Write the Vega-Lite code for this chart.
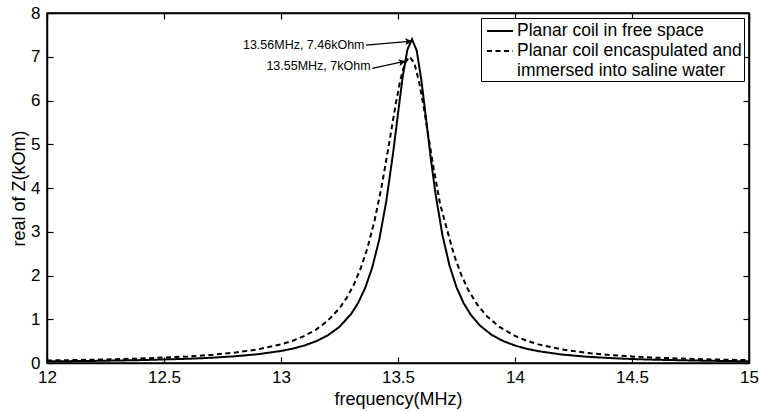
{
  "$schema": "https://vega.github.io/schema/vega-lite/v6.json",
  "width": 702,
  "height": 350,
  "autosize": "none",
  "padding": {"left": 47, "top": 13, "right": 10, "bottom": 48},
  "background": "white",
  "config": {
    "font": "Liberation Sans",
    "view": {"stroke": "black", "strokeWidth": 1.5},
    "axis": {
      "grid": false,
      "domainColor": "black",
      "domainWidth": 1.5,
      "tickColor": "black",
      "tickWidth": 1.2,
      "tickSize": -6,
      "labelFlush": false,
      "labelColor": "black",
      "titleColor": "black",
      "labelFont": "Liberation Sans",
      "titleFont": "Liberation Sans",
      "labelFontSize": 17,
      "titleFontSize": 18,
      "titleFontWeight": "normal"
    },
    "legend": {
      "orient": "none",
      "legendX": 434,
      "legendY": 5,
      "strokeColor": "black",
      "fillColor": "white",
      "padding": 2,
      "symbolType": "M-0.7,0L1.9,0",
      "symbolSize": 400,
      "symbolStrokeWidth": 2,
      "symbolStrokeColor": "black",
      "symbolFillColor": "transparent",
      "labelFont": "Liberation Sans",
      "labelFontSize": 17.5,
      "labelColor": "black",
      "labelLimit": 400,
      "labelOffset": 12,
      "labelLineHeight": 21,
      "rowPadding": 0
    }
  },
  "datasets": {
    "curves": [
      {"s": "free", "f": 12.0, "z": 0.037},
      {"s": "free", "f": 12.2, "z": 0.048},
      {"s": "free", "f": 12.4, "z": 0.066},
      {"s": "free", "f": 12.6, "z": 0.096},
      {"s": "free", "f": 12.7, "z": 0.119},
      {"s": "free", "f": 12.8, "z": 0.152},
      {"s": "free", "f": 12.9, "z": 0.2},
      {"s": "free", "f": 13.0, "z": 0.275},
      {"s": "free", "f": 13.05, "z": 0.329},
      {"s": "free", "f": 13.1, "z": 0.4},
      {"s": "free", "f": 13.15, "z": 0.497},
      {"s": "free", "f": 13.2, "z": 0.632},
      {"s": "free", "f": 13.25, "z": 0.828},
      {"s": "free", "f": 13.3, "z": 1.123},
      {"s": "free", "f": 13.33, "z": 1.377},
      {"s": "free", "f": 13.36, "z": 1.719},
      {"s": "free", "f": 13.39, "z": 2.184},
      {"s": "free", "f": 13.42, "z": 2.824},
      {"s": "free", "f": 13.45, "z": 3.7},
      {"s": "free", "f": 13.48, "z": 4.84},
      {"s": "free", "f": 13.5, "z": 5.7},
      {"s": "free", "f": 13.52, "z": 6.54},
      {"s": "free", "f": 13.54, "z": 7.16},
      {"s": "free", "f": 13.56, "z": 7.4},
      {"s": "free", "f": 13.58, "z": 7.14},
      {"s": "free", "f": 13.6, "z": 6.46},
      {"s": "free", "f": 13.62, "z": 5.58},
      {"s": "free", "f": 13.64, "z": 4.68},
      {"s": "free", "f": 13.66, "z": 3.88},
      {"s": "free", "f": 13.69, "z": 2.92},
      {"s": "free", "f": 13.72, "z": 2.23},
      {"s": "free", "f": 13.75, "z": 1.73},
      {"s": "free", "f": 13.78, "z": 1.373},
      {"s": "free", "f": 13.81, "z": 1.109},
      {"s": "free", "f": 13.85, "z": 0.857},
      {"s": "free", "f": 13.9, "z": 0.644},
      {"s": "free", "f": 13.95, "z": 0.5},
      {"s": "free", "f": 14.0, "z": 0.399},
      {"s": "free", "f": 14.05, "z": 0.325},
      {"s": "free", "f": 14.1, "z": 0.27},
      {"s": "free", "f": 14.2, "z": 0.194},
      {"s": "free", "f": 14.3, "z": 0.146},
      {"s": "free", "f": 14.4, "z": 0.114},
      {"s": "free", "f": 14.5, "z": 0.091},
      {"s": "free", "f": 14.6, "z": 0.075},
      {"s": "free", "f": 14.8, "z": 0.053},
      {"s": "free", "f": 15.0, "z": 0.039},
      {"s": "saline", "f": 12.0, "z": 0.057},
      {"s": "saline", "f": 12.2, "z": 0.075},
      {"s": "saline", "f": 12.4, "z": 0.102},
      {"s": "saline", "f": 12.6, "z": 0.149},
      {"s": "saline", "f": 12.7, "z": 0.185},
      {"s": "saline", "f": 12.8, "z": 0.236},
      {"s": "saline", "f": 12.9, "z": 0.31},
      {"s": "saline", "f": 13.0, "z": 0.426},
      {"s": "saline", "f": 13.05, "z": 0.509},
      {"s": "saline", "f": 13.1, "z": 0.618},
      {"s": "saline", "f": 13.15, "z": 0.764},
      {"s": "saline", "f": 13.2, "z": 0.966},
      {"s": "saline", "f": 13.25, "z": 1.252},
      {"s": "saline", "f": 13.28, "z": 1.483},
      {"s": "saline", "f": 13.31, "z": 1.777},
      {"s": "saline", "f": 13.34, "z": 2.154},
      {"s": "saline", "f": 13.37, "z": 2.638},
      {"s": "saline", "f": 13.4, "z": 3.259},
      {"s": "saline", "f": 13.43, "z": 4.035},
      {"s": "saline", "f": 13.46, "z": 4.954},
      {"s": "saline", "f": 13.49, "z": 5.91},
      {"s": "saline", "f": 13.51, "z": 6.47},
      {"s": "saline", "f": 13.53, "z": 6.86},
      {"s": "saline", "f": 13.55, "z": 7.0},
      {"s": "saline", "f": 13.57, "z": 6.85},
      {"s": "saline", "f": 13.59, "z": 6.43},
      {"s": "saline", "f": 13.61, "z": 5.85},
      {"s": "saline", "f": 13.63, "z": 5.18},
      {"s": "saline", "f": 13.65, "z": 4.52},
      {"s": "saline", "f": 13.68, "z": 3.63},
      {"s": "saline", "f": 13.71, "z": 3.04},
      {"s": "saline", "f": 13.74, "z": 2.46},
      {"s": "saline", "f": 13.77, "z": 2.02},
      {"s": "saline", "f": 13.8, "z": 1.671},
      {"s": "saline", "f": 13.84, "z": 1.323},
      {"s": "saline", "f": 13.88, "z": 1.068},
      {"s": "saline", "f": 13.93, "z": 0.837},
      {"s": "saline", "f": 14.0, "z": 0.618},
      {"s": "saline", "f": 14.05, "z": 0.509},
      {"s": "saline", "f": 14.1, "z": 0.426},
      {"s": "saline", "f": 14.2, "z": 0.31},
      {"s": "saline", "f": 14.3, "z": 0.236},
      {"s": "saline", "f": 14.4, "z": 0.185},
      {"s": "saline", "f": 14.5, "z": 0.149},
      {"s": "saline", "f": 14.6, "z": 0.122},
      {"s": "saline", "f": 14.8, "z": 0.087},
      {"s": "saline", "f": 15.0, "z": 0.065}
    ],
    "notes": [
      {"label": "13.56MHz, 7.46kOhm", "tf": 13.357, "tz": 7.26, "f1": 13.363, "z1": 7.267, "f2": 13.5607, "z2": 7.358},
      {"label": "13.55MHz, 7kOhm", "tf": 13.383, "tz": 6.8, "f1": 13.39, "z1": 6.735, "f2": 13.5326, "z2": 6.9}
    ]
  },
  "resolve": {"axis": {"x": "independent", "y": "independent"}},
  "layer": [
    {
      "data": {"name": "curves"},
      "mark": {"type": "line", "color": "black", "strokeWidth": 2},
      "encoding": {
        "x": {
          "field": "f", "type": "quantitative",
          "scale": {"domain": [12, 15], "nice": false, "zero": false},
          "axis": {"values": [12, 12.5, 13, 13.5, 14, 14.5, 15], "format": "~g", "title": "frequency(MHz)", "labelPadding": 12, "titlePadding": 5}
        },
        "y": {
          "field": "z", "type": "quantitative",
          "scale": {"domain": [0, 8], "nice": false},
          "axis": {"values": [0, 1, 2, 3, 4, 5, 6, 7, 8], "format": "d", "title": "real of Z(kOm)", "labelPadding": 13, "titlePadding": 2}
        },
        "detail": {"field": "s"},
        "strokeDash": {
          "field": "s", "type": "nominal",
          "scale": {"domain": ["free", "saline"], "range": [[1, 0], [5, 3.5]]},
          "legend": {
            "title": null,
            "labelExpr": "datum.value == 'free' ? 'Planar coil in free space' : ['Planar coil encaspulated and', 'immersed into saline water']"
          }
        }
      }
    },
    {
      "data": {"name": "notes"},
      "mark": {"type": "rule", "color": "black", "strokeWidth": 1.2},
      "encoding": {
        "x": {
          "field": "f1", "type": "quantitative",
          "scale": {"domain": [12, 15], "nice": false, "zero": false},
          "axis": {"orient": "top", "values": [12, 12.5, 13, 13.5, 14, 14.5, 15], "labels": false, "title": null}
        },
        "y": {
          "field": "z1", "type": "quantitative",
          "scale": {"domain": [0, 8], "nice": false},
          "axis": {"orient": "right", "values": [0, 1, 2, 3, 4, 5, 6, 7, 8], "labels": false, "title": null}
        },
        "x2": {"field": "f2"},
        "y2": {"field": "z2"}
      }
    },
    {
      "data": {"name": "notes"},
      "mark": {"type": "point", "shape": "M-1,-0.5L0,0L-1,0.5L-0.75,0Z", "filled": true, "color": "black", "strokeWidth": 0.5, "size": 200, "opacity": 1},
      "encoding": {
        "x": {"field": "f2", "type": "quantitative", "axis": null},
        "y": {"field": "z2", "type": "quantitative", "axis": null},
        "angle": {"field": "label", "type": "nominal", "scale": {"domain": ["13.56MHz, 7.46kOhm", "13.55MHz, 7kOhm"], "range": [-5, -13]}, "legend": null}
      }
    },
    {
      "data": {"name": "notes"},
      "mark": {"type": "text", "align": "right", "baseline": "middle", "font": "Liberation Sans", "fontSize": 12.5, "color": "black"},
      "encoding": {
        "x": {"field": "tf", "type": "quantitative", "axis": null},
        "y": {"field": "tz", "type": "quantitative", "axis": null},
        "text": {"field": "label"}
      }
    }
  ]
}
